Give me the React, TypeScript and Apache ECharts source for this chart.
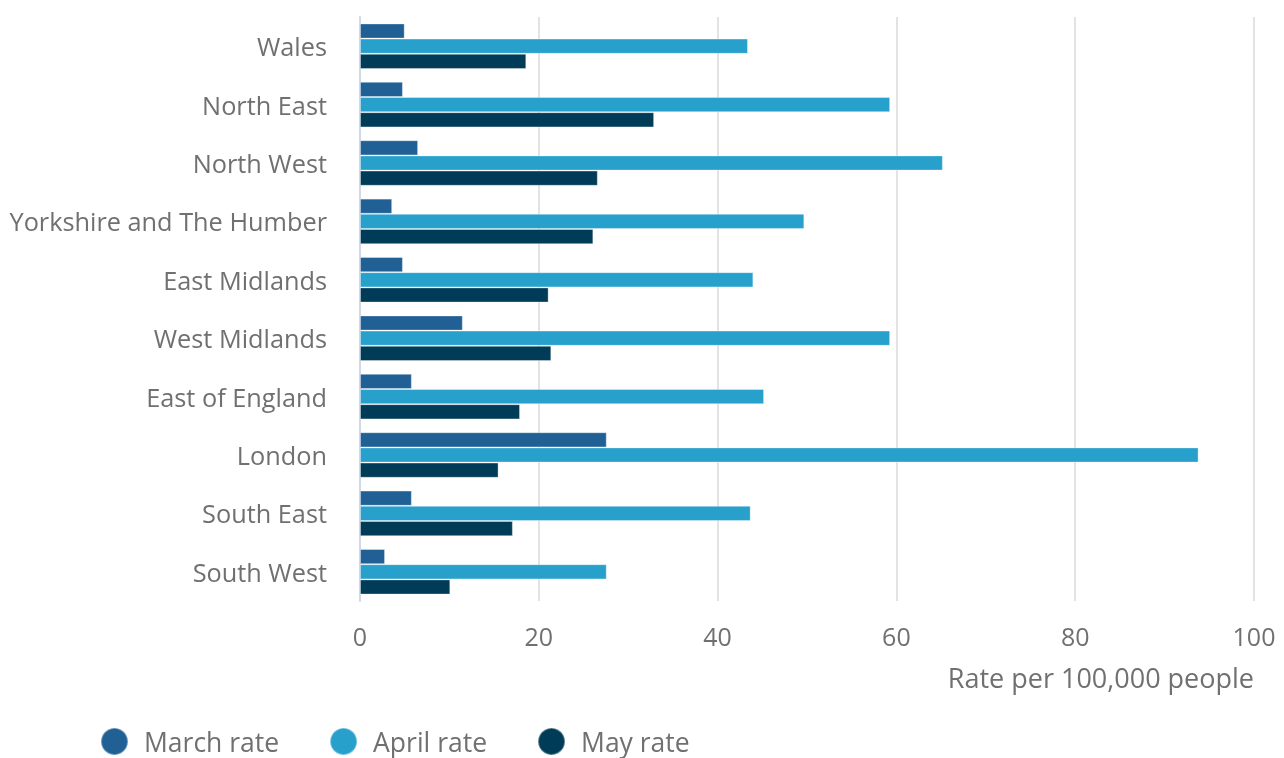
import React, { useEffect, useRef } from "react";
import * as echarts from "echarts";

const regions = [
  "Wales",
  "North East",
  "North West",
  "Yorkshire and The Humber",
  "East Midlands",
  "West Midlands",
  "East of England",
  "London",
  "South East",
  "South West",
];
const marchRate = [5.0, 4.8, 6.5, 3.6, 4.8, 11.5, 5.8, 27.6, 5.8, 2.8];
const aprilRate = [43.4, 59.3, 65.2, 49.7, 44.0, 59.3, 45.2, 93.8, 43.7, 27.6];
const mayRate = [18.6, 32.9, 26.6, 26.1, 21.1, 21.4, 17.9, 15.5, 17.1, 10.1];
const seriesNames = ["March rate", "April rate", "May rate"];
const colors = ["#206095", "#27a0cc", "#003c57"];
const xTicks = { min: 0, max: 100, interval: 20 };
const axisTitle = "Rate per 100,000 people";

const FONT = "'Open Sans', 'Noto Sans', sans-serif";
const TEXT = "#707070";

export default function App() {
  const ref = useRef<HTMLDivElement>(null);
  useEffect(() => {
    if (!ref.current) return;
    const chart = echarts.init(ref.current, undefined, { renderer: "svg" });
    const datasets = [marchRate, aprilRate, mayRate];
    chart.setOption({
      animation: false,
      textStyle: { fontFamily: FONT },
      grid: { left: 360, right: 30, top: 17, bottom: 157, containLabel: false },
      legend: {
        left: 95,
        top: 722,
        icon: "circle",
        itemWidth: 27,
        itemHeight: 27,
        itemGap: 50,
        textStyle: { color: TEXT, fontSize: 26.5, fontFamily: FONT, padding: [0, 0, 0, 11] },
        data: seriesNames,
      },
      xAxis: {
        type: "value",
        min: xTicks.min,
        max: xTicks.max,
        interval: xTicks.interval,
        axisLine: { show: false },
        axisTick: { show: false },
        axisLabel: { color: TEXT, fontSize: 25, margin: 22, fontFamily: FONT },
        splitLine: { lineStyle: { color: "#e3e3e3", width: 2 } },
      },
      yAxis: {
        type: "category",
        data: regions,
        inverse: true,
        axisLine: { lineStyle: { color: "#d3d7ea", width: 2 } },
        axisTick: { length: 21, lineStyle: { color: "#d3d7ea", width: 2 } },
        axisLabel: { color: TEXT, fontSize: 25.3, margin: 33, fontFamily: FONT },
      },
      graphic: [
        {
          type: "text",
          right: 30,
          top: 664,
          style: { text: axisTitle, fill: TEXT, font: `27px ${FONT}` },
        },
      ],
      series: datasets.map((d, i) => ({
        name: seriesNames[i],
        type: "bar",
        data: d,
        barGap: "0%",
        barCategoryGap: "22%",
        itemStyle: {
          color: colors[i],
          borderColor: "rgba(255,255,255,0.35)",
          borderWidth: 1,
        },
      })),
    });
    return () => chart.dispose();
  }, []);
  return (
    <div
      ref={ref}
      style={{ position: "fixed", left: 0, top: 0, width: 1284, height: 758 }}
    />
  );
}
